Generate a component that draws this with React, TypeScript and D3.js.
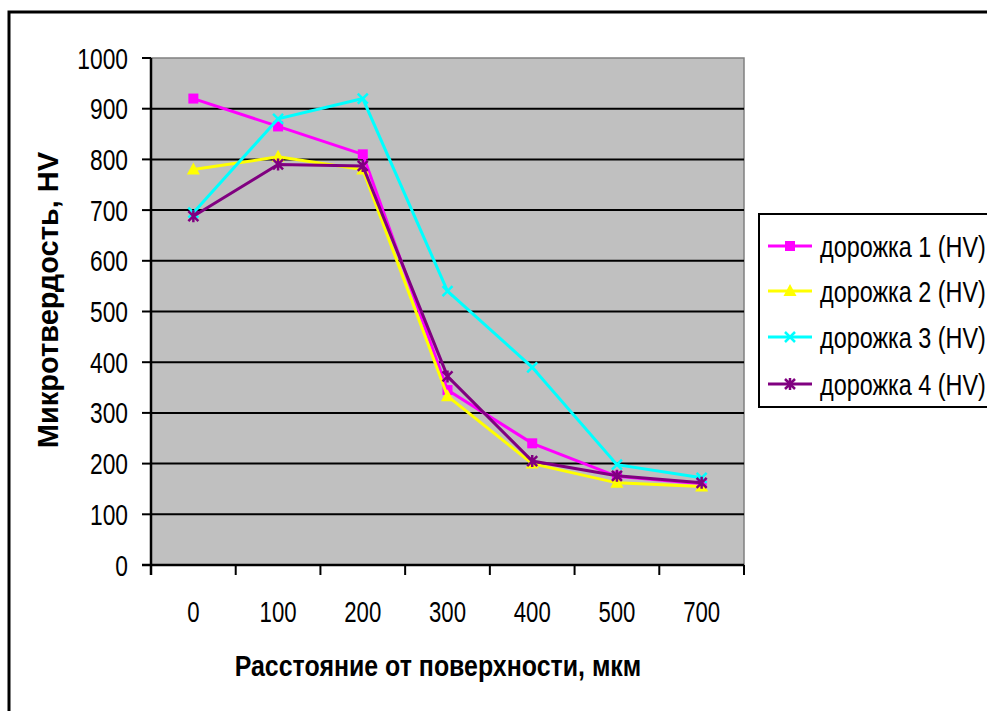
import React from "react";
import * as d3 from "d3";

const categories = ["0", "100", "200", "300", "400", "500", "700"];
const yTicks = [0, 100, 200, 300, 400, 500, 600, 700, 800, 900, 1000];
const track1 = [920, 865, 810, 345, 240, 175, 160];
const track2 = [780, 805, 780, 333, 200, 162, 155];
const track3 = [695, 880, 920, 540, 390, 198, 172];
const track4 = [688, 790, 787, 372, 205, 176, 162];
const seriesNames = ["дорожка 1 (HV)", "дорожка 2 (HV)", "дорожка 3 (HV)", "дорожка 4 (HV)"];
const seriesColors = ["#FF00FF", "#FFFF00", "#00FFFF", "#800080"];
const seriesMarkers = ["square", "triangle", "x", "star"];
const seriesValues = [track1, track2, track3, track4];

const W = 987;
const H = 711;
const plot = { left: 151, right: 744, top: 58, bottom: 565 };
const FONT = "'Liberation Sans', Arial, sans-serif";

function Marker({ type, color, x, y }: { type: string; color: string; x: number; y: number }) {
  if (type === "square") {
    return <rect x={x - 5} y={y - 5} width={10} height={10} fill={color} />;
  }
  if (type === "triangle") {
    return <path d={`M${x},${y - 7}L${x + 6.5},${y + 5}L${x - 6.5},${y + 5}Z`} fill={color} />;
  }
  if (type === "x") {
    return (
      <path d={`M${x - 5},${y - 5}L${x + 5},${y + 5}M${x + 5},${y - 5}L${x - 5},${y + 5}`} stroke={color} strokeWidth={2.5} />
    );
  }
  return (
    <path
      d={`M${x - 5},${y - 5}L${x + 5},${y + 5}M${x + 5},${y - 5}L${x - 5},${y + 5}M${x},${y - 6}L${x},${y + 6}`}
      stroke={color}
      strokeWidth={2.5}
    />
  );
}

export default function App() {
  const x = d3.scaleBand<string>().domain(categories).range([plot.left, plot.right]).padding(0);
  const y = d3.scaleLinear().domain([0, 1000]).range([plot.bottom, plot.top]);
  const bw = x.bandwidth();
  const cx = (c: string) => (x(c) as number) + bw / 2;
  const line = d3
    .line<number>()
    .x((_, i) => cx(categories[i]))
    .y((d) => y(d));

  const boundaries = categories.map((c) => x(c) as number).concat([plot.right]);
  const legendY = [246, 291, 337, 384];

  return (
    <svg width={W} height={H} style={{ position: "absolute", left: 0, top: 0, background: "#fff" }} fontFamily={FONT}>
      <rect x={0} y={0} width={W} height={H} fill="#fff" />
      {/* outer frame */}
      <rect x={9} y={12} width={1000} height={720} fill="none" stroke="#000" strokeWidth={3} />

      {/* plot area */}
      <rect
        x={plot.left}
        y={plot.top}
        width={plot.right - plot.left}
        height={plot.bottom - plot.top}
        fill="#C0C0C0"
        stroke="#808080"
        strokeWidth={1.5}
      />
      {yTicks
        .filter((t) => t > 0 && t < 1000)
        .map((t) => (
          <line key={t} x1={plot.left} x2={plot.right} y1={y(t)} y2={y(t)} stroke="#000" strokeWidth={2} />
        ))}

      {/* axes */}
      <line x1={plot.left} x2={plot.left} y1={plot.top} y2={plot.bottom + 10} stroke="#000" strokeWidth={2.5} />
      <line x1={plot.left - 9} x2={plot.right} y1={plot.bottom} y2={plot.bottom} stroke="#000" strokeWidth={2.5} />
      {yTicks.map((t) => (
        <line key={"yt" + t} x1={plot.left - 9} x2={plot.left} y1={y(t)} y2={y(t)} stroke="#000" strokeWidth={2} />
      ))}
      {boundaries.map((b, i) => (
        <line key={"xt" + i} x1={b} x2={b} y1={plot.bottom} y2={plot.bottom + 10} stroke="#000" strokeWidth={2} />
      ))}

      {/* y tick labels */}
      {yTicks.map((t) => (
        <text
          key={"yl" + t}
          transform={`translate(128,${y(t) + 10.5}) scale(0.76,1)`}
          textAnchor="end"
          fontSize={30}
          fill="#000"
        >
          {t}
        </text>
      ))}
      {/* x tick labels */}
      {categories.map((c) => (
        <text
          key={"xl" + c}
          transform={`translate(${cx(c)},${621.5}) scale(0.74,1)`}
          textAnchor="middle"
          fontSize={30}
          fill="#000"
        >
          {c}
        </text>
      ))}

      {/* axis titles */}
      <text
        transform={`translate(438,676) scale(0.86,1)`}
        textAnchor="middle"
        fontSize={29}
        fontWeight="bold"
        fill="#000"
      >
        Расстояние от поверхности, мкм
      </text>
      <text
        transform={`translate(58,300) rotate(-90)`}
        textAnchor="middle"
        fontSize={29}
        fontWeight="bold"
        fill="#000"
      >
        Микротвердость, HV
      </text>

      {/* series */}
      <g clipPath="none">
        {seriesValues.map((vals, si) => (
          <g key={"s" + si}>
            <path d={line(vals) || ""} fill="none" stroke={seriesColors[si]} strokeWidth={3} />
            {vals.map((v, i) => (
              <Marker key={i} type={seriesMarkers[si]} color={seriesColors[si]} x={cx(categories[i])} y={y(v)} />
            ))}
          </g>
        ))}
      </g>

      {/* legend */}
      <rect x={759} y={214} width={300} height={193} fill="#fff" stroke="#000" strokeWidth={2} />
      {seriesNames.map((n, i) => (
        <g key={"lg" + i}>
          <line x1={768} x2={812} y1={legendY[i]} y2={legendY[i]} stroke={seriesColors[i]} strokeWidth={3} />
          <Marker type={seriesMarkers[i]} color={seriesColors[i]} x={790} y={legendY[i]} />
          <text transform={`translate(820,${legendY[i] + 10.5}) scale(0.78,1)`} fontSize={30} fill="#000">
            {n}
          </text>
        </g>
      ))}
    </svg>
  );
}
